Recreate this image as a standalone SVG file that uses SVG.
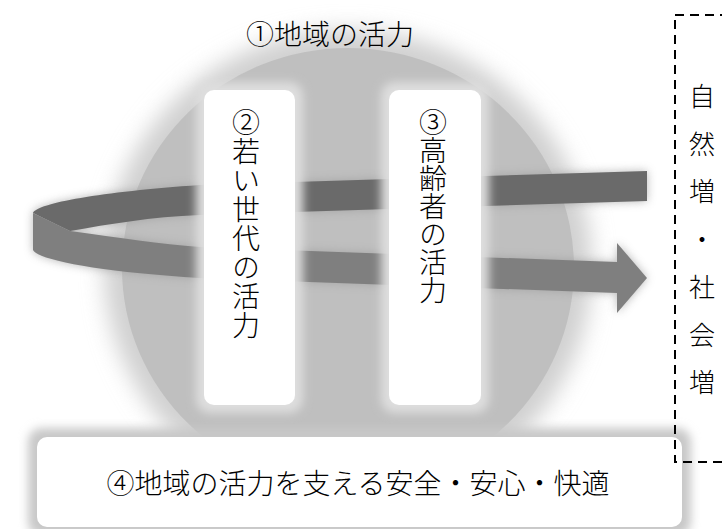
<svg xmlns="http://www.w3.org/2000/svg" width="722" height="529" viewBox="0 0 722 529">
<defs>
<filter id="glowL" x="-30%" y="-30%" width="160%" height="160%"><feGaussianBlur stdDeviation="11"/></filter>
<filter id="glowS" x="-30%" y="-30%" width="160%" height="160%"><feGaussianBlur stdDeviation="5"/></filter>
<filter id="glowB" x="-20%" y="-50%" width="140%" height="200%"><feGaussianBlur stdDeviation="5"/></filter>
</defs>
<style>
.jp{font-family:"Noto Sans CJK JP","Noto Sans CJK SC",sans-serif;font-weight:300;fill:#000}
.v{writing-mode:vertical-rl}
.boxglow{fill:#dedede}
.box{fill:#fff}
</style>
<rect width="722" height="529" fill="#fff"/>
<g id="node-region">
<ellipse cx="348" cy="268" rx="244" ry="238" fill="#d0d0d0" filter="url(#glowL)"/>
<ellipse cx="348" cy="268" rx="226" ry="220" fill="#bfbfbf"/>
<text class="jp" x="330" y="45" font-size="28" text-anchor="middle">①地域の活力</text>
</g>
<g id="connectors">
<g filter="url(#glowB)" fill="#999" opacity="0.7">
<path d="M647,171 L200,185 C100,192 38,203 33,213 L70,231 C110,224 150,217 200,215 L647,201 Z"/>
<path d="M33,213 L70,231 C120,238 160,244 200,247 L617,262 L617,243 L647,278 L617,313 L617,293 L200,278 C100,272 38,260 33,250 Z"/>
</g>
<path d="M647,171 L200,185 C100,192 38,203 33,213 L70,231 C110,224 150,217 200,215 L647,201 Z" fill="#6a6a6a"/>
<path d="M33,213 L70,231 C120,238 160,244 200,247 L617,262 L617,243 L647,278 L617,313 L617,293 L200,278 C100,272 38,260 33,250 Z" fill="#7f7f7f"/>
</g>
<g id="node-young">
<rect class="boxglow" x="196" y="82" width="107" height="331" rx="14" filter="url(#glowS)"/>
<rect class="box" x="204" y="90" width="91" height="315" rx="10"/>
<text class="jp v" x="246" y="108" font-size="28" letter-spacing="1">②若い世代の活力</text>
</g>
<g id="node-elder">
<rect class="boxglow" x="381" y="82" width="108" height="331" rx="14" filter="url(#glowS)"/>
<rect class="box" x="389" y="90" width="92" height="315" rx="10"/>
<text class="jp v" x="433" y="108" font-size="28">③高齢者の活力</text>
</g>
<g id="node-base">
<rect x="28" y="428" width="663" height="108" rx="14" fill="#c8c8c8" filter="url(#glowS)"/>
<rect class="box" x="37" y="437" width="645" height="90" rx="10"/>
<text class="jp" x="358" y="494" font-size="28" text-anchor="middle">④地域の活力を支える安全・安心・快適</text>
</g>
<g id="node-note">
<rect x="675" y="15" width="100" height="447" fill="none" stroke="#000" stroke-width="2" stroke-dasharray="9 6"/>
<text class="jp" font-size="26"><tspan x="689" y="106">自</tspan><tspan x="689" y="153.7">然</tspan><tspan x="689" y="201.4">増</tspan><tspan x="689" y="249">・</tspan><tspan x="689" y="296.8">社</tspan><tspan x="689" y="344.5">会</tspan><tspan x="689" y="392">増</tspan></text>
</g>
</svg>
